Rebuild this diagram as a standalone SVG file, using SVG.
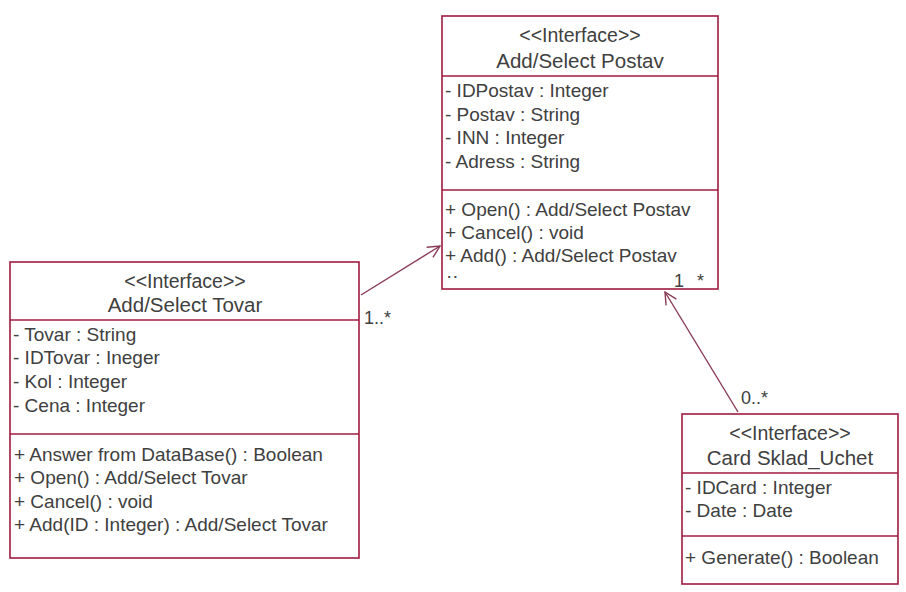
<svg xmlns="http://www.w3.org/2000/svg" width="906" height="592" viewBox="0 0 906 592">
<defs>
<style>
.box{fill:#fff;stroke:#a01a40;stroke-width:1.6}
.div{stroke:#a01a40;stroke-width:1.4}
text{font-family:"Liberation Sans",Arial,sans-serif;fill:#404040}
.st{font-size:19.5px;text-anchor:middle}
.nm{font-size:20.5px;text-anchor:middle}
.at{font-size:19px}
.lb{font-size:18px}
.con{stroke:#8a3a55;stroke-width:1.4;fill:none}
</style>
<marker id="open" viewBox="0 0 14 14" refX="13" refY="7" markerWidth="14" markerHeight="14" markerUnits="userSpaceOnUse" orient="auto">
<path d="M1,1 L13,7 L1,13" fill="none" stroke="#8a3a55" stroke-width="1.4"/>
</marker>
</defs>
<rect width="906" height="592" fill="#fff"/>
<g id="postav">
<rect class="box" x="442" y="16" width="276" height="273"/>
<line class="div" x1="442" y1="76" x2="718" y2="76"/>
<line class="div" x1="442" y1="190" x2="718" y2="190"/>
<text class="st" x="580" y="42">&lt;&lt;Interface&gt;&gt;</text>
<text class="nm" x="580" y="68">Add/Select Postav</text>
<text class="at" x="445" y="97">- IDPostav : Integer</text>
<text class="at" x="445" y="121">- Postav : String</text>
<text class="at" x="445" y="144">- INN : Integer</text>
<text class="at" x="445" y="168">- Adress : String</text>
<text class="at" x="445" y="216">+ Open() : Add/Select Postav</text>
<text class="at" x="445" y="239">+ Cancel() : void</text>
<text class="at" x="445" y="262">+ Add() : Add/Select Postav</text>
<text class="at" x="446" y="282">··</text>
</g>
<g id="tovar">
<rect class="box" x="10" y="262" width="349" height="296"/>
<line class="div" x1="10" y1="320" x2="359" y2="320"/>
<line class="div" x1="10" y1="434" x2="359" y2="434"/>
<text class="st" x="185" y="288">&lt;&lt;Interface&gt;&gt;</text>
<text class="nm" x="185" y="312">Add/Select Tovar</text>
<text class="at" x="13" y="341">- Tovar : String</text>
<text class="at" x="13" y="364">- IDTovar : Ineger</text>
<text class="at" x="13" y="388">- Kol : Integer</text>
<text class="at" x="13" y="412">- Cena : Integer</text>
<text class="at" x="14" y="461">+ Answer from DataBase() : Boolean</text>
<text class="at" x="14" y="484">+ Open() : Add/Select Tovar</text>
<text class="at" x="14" y="508">+ Cancel() : void</text>
<text class="at" x="14" y="531">+ Add(ID : Integer) : Add/Select Tovar</text>
</g>
<g id="card">
<rect class="box" x="682" y="414" width="216" height="170"/>
<line class="div" x1="682" y1="473" x2="898" y2="473"/>
<line class="div" x1="682" y1="536" x2="898" y2="536"/>
<text class="st" x="790" y="440">&lt;&lt;Interface&gt;&gt;</text>
<text class="nm" x="790" y="465">Card Sklad_Uchet</text>
<text class="at" x="685" y="494">- IDCard : Integer</text>
<text class="at" x="685" y="517">- Date : Date</text>
<text class="at" x="685" y="564">+ Generate() : Boolean</text>
</g>
<g id="connectors">
<line class="con" x1="361" y1="295" x2="440" y2="246" marker-end="url(#open)"/>
<line class="con" x1="738" y1="412" x2="665" y2="292" marker-end="url(#open)"/>
<text class="lb" x="364" y="324">1..*</text>
<text class="lb" x="741" y="404">0..*</text>
<text class="lb" x="674" y="287">1</text>
<text class="lb" x="697" y="287">*</text>
</g>
</svg>
